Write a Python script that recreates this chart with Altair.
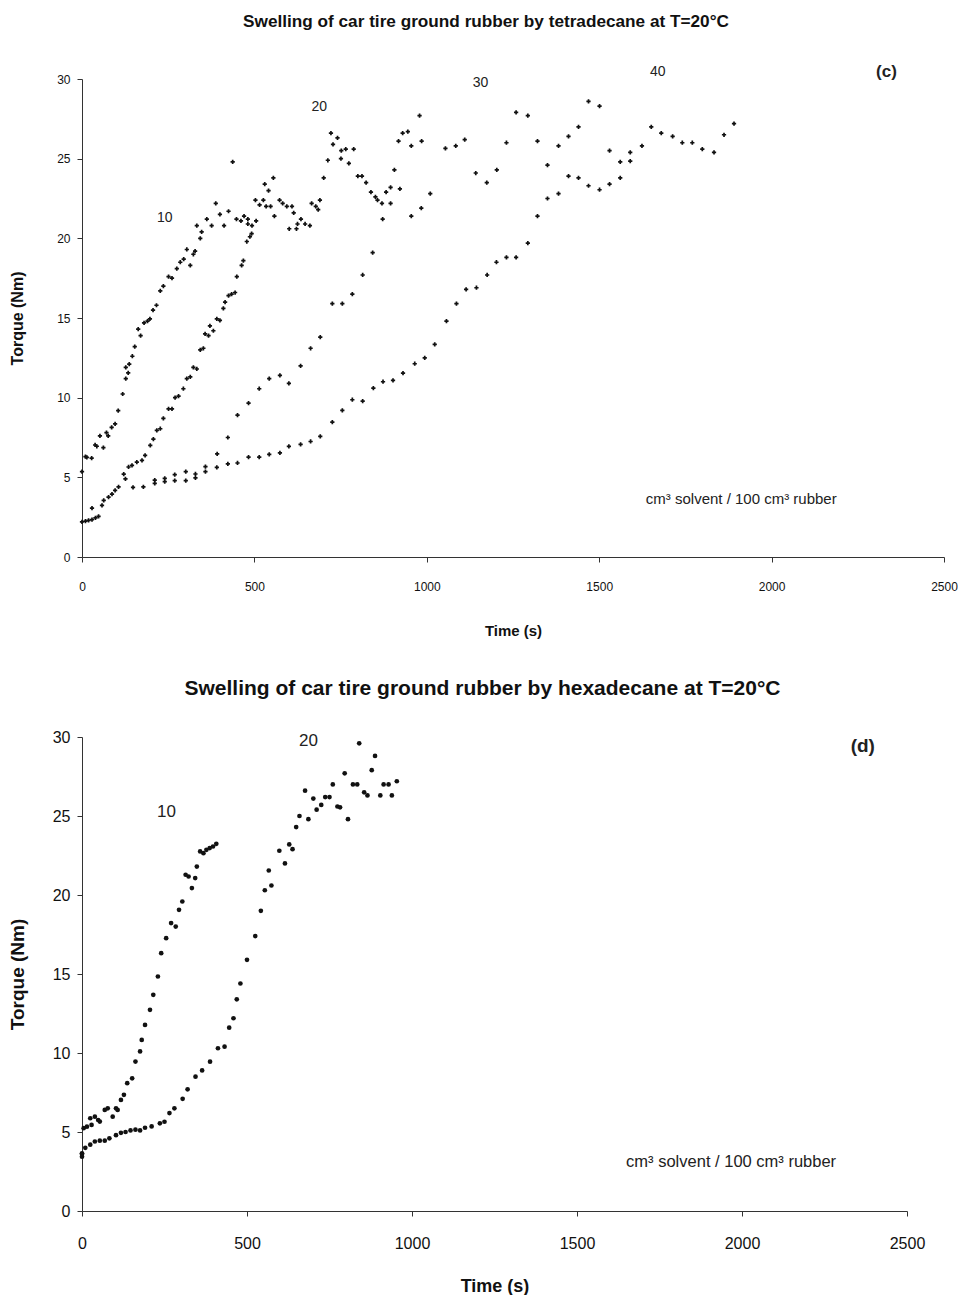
import altair as alt
import pandas as pd

FONT = "Liberation Sans"

# ---------------- (c) tetradecane ----------------
tet10_t = [0, 10, 14, 28, 38, 43, 52, 62, 71, 76, 86, 96, 105, 118, 127, 127, 134, 137, 146, 153,
           163, 170, 180, 190, 197, 206, 216, 227, 236, 251, 261, 275, 285, 295, 304, 314, 323, 328, 333, 343,
           347, 362, 376, 388, 400, 412, 425, 437, 448, 461, 470, 481, 481, 493, 503, 505, 515, 526, 534, 547,
           558, 573, 582, 594, 601, 609, 614, 622, 625, 635, 647, 661, 666, 678, 685, 690]
tet10_y = [5.36, 6.3, 6.25, 6.2, 7.03, 6.95, 7.6, 6.87, 7.8, 7.6, 8.14, 8.35, 9.19, 10.23, 11.9, 11.2, 11.55, 12.1, 12.6, 13.2,
           14.3, 13.9, 14.7, 14.8, 14.95, 15.5, 15.8, 16.7, 17.0, 17.6, 17.5, 18.1, 18.5, 18.7, 19.3, 18.3, 19.0, 19.2, 20.8, 20.0,
           20.4, 21.2, 20.8, 22.2, 21.5, 20.8, 21.7, 24.8, 21.2, 21.1, 21.4, 21.2, 20.9, 20.8, 22.4, 21.1, 22.1, 22.4, 22.0, 22.0,
           21.4, 22.4, 22.2, 22.0, 20.6, 22.0, 21.6, 20.6, 20.9, 21.2, 20.9, 20.8, 22.2, 22.0, 21.8, 22.4]

tet20_t = [0, 10, 19, 29, 39, 48, 29, 58, 63, 77, 87, 96, 106, 121, 126, 135, 145, 159, 174, 183,
           198, 207, 217, 227, 236, 251, 261, 270, 280, 294, 304, 314, 323, 333, 343, 352, 357, 367, 371, 381,
           391, 400, 410, 415, 425, 434, 444, 449, 463, 468, 478, 487, 492, 530, 541, 555, 701, 713, 722, 728,
           741, 751, 752, 765, 774, 788, 800, 812, 824, 838, 851, 857, 870, 882, 895, 906, 918, 930, 945, 955,
           979, 985]
tet20_y = [2.2, 2.25, 2.3, 2.35, 2.45, 2.55, 3.07, 3.24, 3.55, 3.76, 3.95, 4.18, 4.4, 5.2, 4.9, 5.65, 5.75, 5.96, 6.06, 6.38,
           7.0, 7.4, 7.95, 8.05, 8.7, 9.3, 9.3, 10.0, 10.1, 10.56, 11.2, 11.3, 11.9, 11.8, 13.0, 13.1, 14.0, 13.9, 14.5, 14.2,
           14.95, 14.85, 15.6, 16.0, 16.4, 16.5, 16.6, 17.6, 18.3, 18.6, 19.8, 20.1, 20.3, 23.4, 23.0, 23.8, 23.8, 24.9, 26.6, 25.9,
           26.3, 25.0, 25.5, 25.6, 24.7, 25.6, 23.9, 23.9, 23.5, 22.9, 22.6, 22.4, 22.2, 22.9, 23.2, 24.3, 26.1, 26.6, 26.7, 25.8,
           27.7, 26.1]

tet30_t = [148, 178, 211, 240, 269, 301, 329, 358, 392, 423, 451, 483, 514, 543, 574, 600, 634, 663, 691, 726,
           755, 784, 814, 843, 872, 895, 922, 955, 984, 1010, 1054, 1084, 1110, 1142, 1174, 1203, 1231, 1259, 1293, 1321,
           1350, 1382, 1411, 1440, 1469, 1501, 1530, 1561, 1590]
tet30_y = [4.37, 4.4, 4.83, 4.94, 5.17, 5.36, 5.21, 5.67, 6.47, 7.5, 8.9, 9.66, 10.56, 11.2, 11.4, 10.9, 12.0, 13.1, 13.8, 15.9,
           15.9, 16.5, 17.7, 19.1, 21.2, 22.2, 23.1, 21.4, 21.9, 22.8, 25.65, 25.8, 26.2, 24.1, 23.5, 24.3, 26.0, 27.9, 27.7, 26.1,
           24.6, 25.8, 26.4, 27.0, 28.6, 28.3, 25.5, 24.8, 25.4]

tet40_t = [211, 240, 269, 301, 329, 358, 391, 423, 451, 483, 514, 543, 574, 600, 634, 663, 691, 726, 755, 784,
           814, 845, 873, 902, 931, 965, 994, 1023, 1057, 1086, 1114, 1144, 1175, 1202, 1231, 1259, 1293, 1321, 1350, 1382,
           1411, 1440, 1469, 1501, 1530, 1561, 1590, 1624, 1651, 1680, 1713, 1741, 1770, 1799, 1833, 1862, 1891]
tet40_y = [4.62, 4.73, 4.79, 4.79, 4.96, 5.36, 5.63, 5.85, 5.9, 6.27, 6.27, 6.44, 6.54, 6.94, 7.07, 7.25, 7.57, 8.47, 9.2, 9.87,
           9.78, 10.6, 11.0, 11.08, 11.54, 12.13, 12.5, 13.34, 14.8, 15.9, 16.8, 16.9, 17.7, 18.5, 18.8, 18.8, 19.7, 21.4, 22.5, 22.8,
           23.9, 23.8, 23.3, 23.05, 23.4, 23.8, 24.85, 25.8, 27.0, 26.6, 26.4, 26.0, 26.0, 25.6, 25.4, 26.5, 27.2]

# ---------------- (d) hexadecane ----------------
hex10_t = [0, 0, 5, 15, 25, 29, 39, 49, 54, 69, 78, 93, 103, 108, 118, 127, 137, 152, 162, 176,
           181, 191, 206, 216, 230, 240, 255, 270, 284, 294, 304, 314, 323, 333, 343, 348, 358, 368, 377, 387,
           397, 407]
hex10_y = [3.65, 3.44, 5.24, 5.34, 5.87, 5.45, 5.97, 5.76, 5.66, 6.4, 6.5, 5.97, 6.5, 6.4, 7.03, 7.35, 8.09, 8.4, 9.46, 10.1,
           10.83, 11.78, 12.73, 13.68, 14.84, 16.32, 17.27, 18.22, 18.0, 19.06, 19.59, 21.28, 21.17, 20.44, 21.07, 21.8, 22.76, 22.65, 22.86, 22.97,
           23.07, 23.24]

hex20_t = [0, 10, 25, 39, 54, 69, 83, 103, 118, 132, 147, 162, 176, 191, 211, 236, 250, 265, 280, 305,
           320, 344, 364, 388, 412, 432, 446, 459, 469, 480, 500, 525, 542, 554, 566, 574, 598, 615, 628, 638,
           649, 659, 676, 686, 701, 711, 725, 737, 750, 760, 774, 782, 796, 806, 821, 834, 840, 855, 865, 878,
           888, 904, 914, 929, 939, 954]
hex20_y = [3.6, 4.0, 4.2, 4.4, 4.45, 4.45, 4.6, 4.8, 4.95, 5.0, 5.1, 5.15, 5.1, 5.27, 5.35, 5.55, 5.65, 6.2, 6.5, 7.1,
           7.7, 8.5, 8.9, 9.45, 10.3, 10.4, 11.6, 12.2, 13.4, 14.4, 15.9, 17.4, 19.0, 20.3, 21.55, 20.6, 22.8, 22.0, 23.2, 22.9,
           24.3, 25.0, 26.6, 24.8, 26.1, 25.4, 25.7, 26.2, 26.2, 27.0, 25.6, 25.55, 27.7, 24.8, 27.0, 27.0, 29.6, 26.5, 26.3, 27.9,
           28.8, 26.3, 27.0, 27.0, 26.3, 27.2]

# curve labels
top_lab_text = ["10", "20", "30", "40"]
top_lab_t = [240, 688, 1156, 1670]
top_lab_y = [21.3, 28.25, 29.75, 30.45]
bot_lab_text = ["10", "20"]
bot_lab_t = [256, 686]
bot_lab_y = [25.25, 29.75]

x_ticks = [0, 500, 1000, 1500, 2000, 2500]
y_ticks = [0, 5, 10, 15, 20, 25, 30]


def frame(ts, ys, name):
    return pd.DataFrame({"t": ts, "y": ys, "series": name})


top_df = pd.concat([frame(tet10_t, tet10_y, "10"), frame(tet20_t, tet20_y, "20"),
                    frame(tet30_t, tet30_y, "30"), frame(tet40_t, tet40_y, "40")])
bot_df = pd.concat([frame(hex10_t, hex10_y, "10"), frame(hex20_t, hex20_y, "20")])


def axes(label_size, x_title_size, y_title_size, x_lab_pad, x_title_pad, y_lab_pad, y_title_pad):
    common = dict(grid=False, tickSize=5, domainColor="#333", tickColor="#333",
                  labelColor="#111", titleColor="#111", labelFont=FONT, titleFont=FONT,
                  labelFontSize=label_size, titleFontWeight="bold",
                  labelFlush=False, labelOverlap=False)
    xa = alt.Axis(title="Time (s)", values=x_ticks, format="d", labelPadding=x_lab_pad,
                  titlePadding=x_title_pad, titleFontSize=x_title_size, **common)
    ya = alt.Axis(title="Torque (Nm)", values=y_ticks, format="d", labelPadding=y_lab_pad,
                  titlePadding=y_title_pad, titleFontSize=y_title_size, **common)
    return xa, ya


# ---------- top panel ----------
xa, ya = axes(12, 15, 16, 19, 31, 7, 31)
xs = alt.X("t:Q", scale=alt.Scale(domain=[0, 2500], nice=False, zero=False), axis=xa)
ys = alt.Y("y:Q", scale=alt.Scale(domain=[0, 30], nice=False), axis=ya)

top_pts = alt.Chart(top_df).mark_point(shape="cross", filled=True, size=18, color="#111",
                                         opacity=1).encode(x=xs, y=ys)
top_lab = alt.Chart(pd.DataFrame({"t": top_lab_t, "y": top_lab_y, "text": top_lab_text})).mark_text(
    font=FONT, fontSize=14, color="#222", clip=False).encode(x="t:Q", y="y:Q", text="text:N")
top_tag = alt.Chart(pd.DataFrame({"t": [2333], "y": [30.45], "text": ["(c)"]})).mark_text(
    font=FONT, fontSize=17, fontWeight="bold", color="#222", clip=False).encode(x="t:Q", y="y:Q", text="text:N")
top_note = alt.Chart(pd.DataFrame({"t": [1912], "y": [3.64], "text": ["cm³ solvent / 100 cm³ rubber"]})).mark_text(
    font=FONT, fontSize=15, color="#222").encode(x="t:Q", y="y:Q", text="text:N")

top = alt.layer(top_pts, top_lab, top_tag, top_note).properties(
    width=862, height=478,
    title=alt.TitleParams("Swelling of car tire ground rubber by tetradecane at T=20°C", font=FONT,
                          fontSize=17.2, fontWeight="bold", color="#111", anchor="middle",
                          frame="group", offset=33, dx=-27))

# ---------- bottom panel ----------
xb, yb = axes(16, 18, 19, 19, 26, 7, 25)
xsb = alt.X("t:Q", scale=alt.Scale(domain=[0, 2500], nice=False, zero=False), axis=xb)
ysb = alt.Y("y:Q", scale=alt.Scale(domain=[0, 30], nice=False), axis=yb)

bot_pts = alt.Chart(bot_df).mark_point(shape="circle", filled=True, size=22, color="#111",
                                         opacity=1).encode(x=xsb, y=ysb)
bot_lab = alt.Chart(pd.DataFrame({"t": bot_lab_t, "y": bot_lab_y, "text": bot_lab_text})).mark_text(
    font=FONT, fontSize=17, color="#222", clip=False).encode(x="t:Q", y="y:Q", text="text:N")
bot_tag = alt.Chart(pd.DataFrame({"t": [2366], "y": [29.4], "text": ["(d)"]})).mark_text(
    font=FONT, fontSize=19, fontWeight="bold", color="#222", clip=False).encode(x="t:Q", y="y:Q", text="text:N")
bot_note = alt.Chart(pd.DataFrame({"t": [1967], "y": [3.1], "text": ["cm³ solvent / 100 cm³ rubber"]})).mark_text(
    font=FONT, fontSize=16.5, color="#222").encode(x="t:Q", y="y:Q", text="text:N")

bottom = alt.layer(bot_pts, bot_lab, bot_tag, bot_note).properties(
    width=825, height=474,
    title=alt.TitleParams("Swelling of car tire ground rubber by hexadecane at T=20°C", font=FONT,
                          fontSize=21, fontWeight="bold", color="#111", anchor="middle",
                          frame="group", offset=30, dx=-12))

chart = alt.concat(top, bottom, columns=1, spacing=40, align="none").properties(
    padding={"left": 0, "top": 4, "right": 0, "bottom": 0},
    background="white"
).configure_view(strokeWidth=0)

chart.save("out.html", embed_options={"renderer": "svg", "actions": False})
